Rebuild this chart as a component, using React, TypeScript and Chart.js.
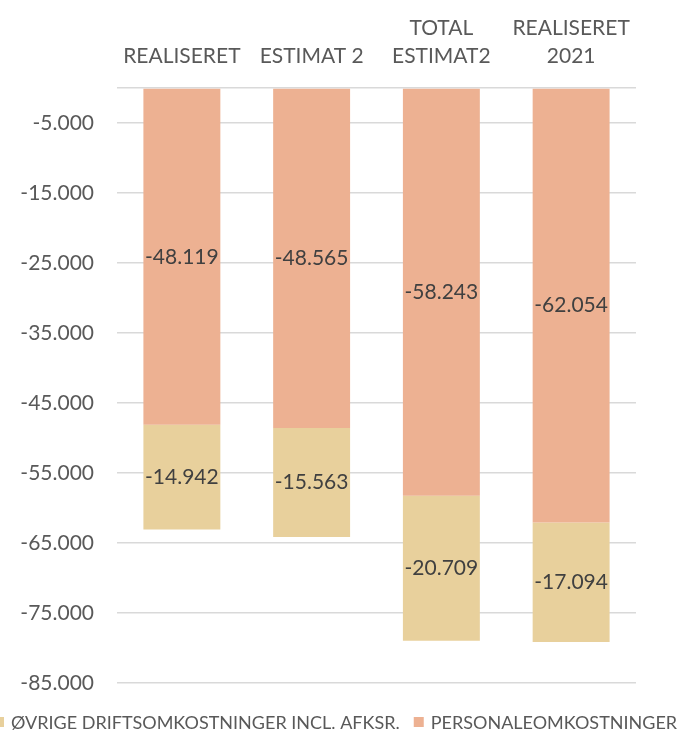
import React, { useEffect, useRef } from 'react';
import { Chart, registerables } from 'chart.js';
Chart.register(...registerables);

const categories = [['REALISERET'], ['ESTIMAT 2'], ['TOTAL', 'ESTIMAT2'], ['REALISERET', '2021']];
const personaleValues = [-48119, -48565, -58243, -62054];
const ovrigeValues = [-14942, -15563, -20709, -17094];
const yTickValues = [-85000, -75000, -65000, -55000, -45000, -35000, -25000, -15000, -5000, 0];
const seriesNames = ['PERSONALEOMKOSTNINGER', 'ØVRIGE DRIFTSOMKOSTNINGER INCL. AFKSR.'];
const seriesColors = ['#EDB192', '#E8D09C'];

const FONT = 'Lato';

const fmt = (v: number) => {
  const s = Math.round(Math.abs(v)).toString().replace(/\B(?=(\d{3})+(?!\d))/g, '.');
  return (v < 0 ? '-' : '') + s;
};

const dataLabelPlugin = {
  id: 'dataLabels',
  afterDatasetsDraw(chart: any) {
    const ctx = chart.ctx;
    ctx.save();
    ctx.font = `21px ${FONT}`;
    ctx.fillStyle = '#404040';
    ctx.textAlign = 'center';
    ctx.textBaseline = 'middle';
    chart.data.datasets.forEach((ds: any, i: number) => {
      const meta = chart.getDatasetMeta(i);
      meta.data.forEach((el: any, j: number) => {
        const p = el.getCenterPoint();
        ctx.fillText(fmt(ds.data[j]), p.x, p.y);
      });
    });
    ctx.restore();
  },
};

const legendPlugin = {
  id: 'customLegend',
  afterDraw(chart: any) {
    const ctx = chart.ctx;
    ctx.save();
    ctx.font = `18px ${FONT}`;
    ctx.textBaseline = 'middle';
    const items = [...chart.data.datasets].reverse();
    const box = 10, gapText = 7, gapItem = 14;
    const widths = items.map((d: any) => ctx.measureText(d.label).width);
    let x = -6;
    const y = 722;
    items.forEach((d: any, i: number) => {
      ctx.fillStyle = d.backgroundColor;
      ctx.fillRect(x, y - box / 2, box, box);
      x += box + gapText;
      ctx.fillStyle = '#595959';
      ctx.textAlign = 'left';
      ctx.fillText(d.label, x, y + 1);
      x += widths[i] + gapItem;
    });
    ctx.restore();
  },
};

export default function App() {
  const ref = useRef<HTMLCanvasElement | null>(null);
  useEffect(() => {
    if (!ref.current) return;
    const chart = new Chart(ref.current, {
      type: 'bar',
      data: {
        labels: categories,
        datasets: [
          { label: seriesNames[0], data: personaleValues, backgroundColor: seriesColors[0], barPercentage: 0.593, categoryPercentage: 1 },
          { label: seriesNames[1], data: ovrigeValues, backgroundColor: seriesColors[1], barPercentage: 0.593, categoryPercentage: 1 },
        ],
      },
      options: {
        responsive: false,
        animation: false,
        layout: { padding: { left: 0, right: 42, top: 0, bottom: 51 } },
        plugins: { legend: { display: false }, tooltip: { enabled: false } },
        scales: {
          x: {
            position: 'top',
            stacked: true,
            grid: { display: false },
            border: { display: false },
            ticks: {
              autoSkip: false,
              maxRotation: 0,
              minRotation: 0,
              padding: 10,
              color: '#595959',
              font: { family: FONT, size: 21, lineHeight: 1.33 },
            },
            afterFit: (s: any) => { s.height = 88; },
          },
          y: {
            stacked: true,
            min: -85000,
            max: 0,
            grid: { color: '#d9d9d9', lineWidth: 1.5, drawTicks: false },
            border: { display: false },
            afterBuildTicks: (s: any) => { s.ticks = yTickValues.map((v) => ({ value: v })); },
            ticks: {
              padding: 23,
              color: '#595959',
              font: { family: FONT, size: 21 },
              callback: (v: any) => (v === 0 ? '' : fmt(Number(v))),
            },
            afterFit: (s: any) => { s.width = 117; },
          },
        },
      },
      plugins: [dataLabelPlugin, legendPlugin],
    } as any);
    return () => chart.destroy();
  }, []);
  return (
    <div style={{ position: 'fixed', left: 0, top: 0, width: 678, height: 734, background: '#fff' }}>
      <canvas ref={ref} width={678} height={734} style={{ display: 'block' }} />
    </div>
  );
}
